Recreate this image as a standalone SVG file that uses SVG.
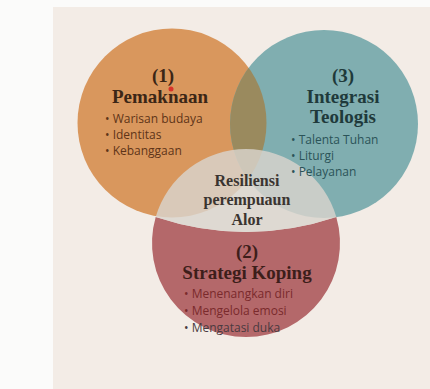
<svg xmlns="http://www.w3.org/2000/svg" width="430" height="389" viewBox="0 0 430 389">
<defs>
<clipPath id="clipOrange"><circle cx="172" cy="123" r="94.5"/></clipPath>
<style>
.h{font-family:"Liberation Serif","DejaVu Serif",serif;font-weight:bold;font-size:19px;text-anchor:middle}
.c{font-size:16px}
.b{font-family:"Open Sans","Noto Sans",sans-serif;font-size:12px}
</style>
</defs>
<rect x="0" y="0" width="430" height="389" fill="#fbfbfa"/>
<rect x="53" y="7" width="377" height="382" fill="#f3ece6"/>
<g id="node-pemaknaan">
<circle cx="172" cy="123" r="94.5" fill="#d9975d"/>
</g>
<g id="node-teologis">
<circle cx="324" cy="124" r="94" fill="#80aeb0"/>
<circle cx="324" cy="124" r="94" fill="#9a8a5e" clip-path="url(#clipOrange)"/>
</g>
<g id="node-koping">
<path d="M155.7,217 Q246,247 336.3,217 A94,94 0 1 1 155.7,217 Z" fill="#b4686a"/>
</g>
<g id="node-resiliensi">
<path d="M155.7,217 A94,94 0 0 1 336.3,217 Q246,247 155.7,217 Z" fill="#d9d4cd" opacity="0.82"/>
</g>
<g id="connectors"></g>
<g id="labels">
<text class="h" x="163" y="82" fill="#3b2616">(1)</text>
<text class="h" x="160" y="103" fill="#3b2616">Pemaknaan</text>
<text class="b" x="105" y="123" fill="#5e3418">• Warisan budaya</text>
<text class="b" x="105" y="139" fill="#5e3418">• Identitas</text>
<text class="b" x="105" y="155" fill="#5e3418">• Kebanggaan</text>
<circle cx="171" cy="89" r="2.5" fill="#d8322a"/>
<text class="h" x="343" y="82" fill="#1f3a3b">(3)</text>
<text class="h" x="343" y="103" fill="#1f3a3b">Integrasi</text>
<text class="h" x="343" y="123" fill="#1f3a3b">Teologis</text>
<text class="b" x="291" y="144" fill="#2b5358">• Talenta Tuhan</text>
<text class="b" x="291" y="160" fill="#2b5358">• Liturgi</text>
<text class="b" x="291" y="176" fill="#2b5358">• Pelayanan</text>
<text class="h c" x="247" y="186" fill="#3a3430">Resiliensi</text>
<text class="h c" x="247" y="205" fill="#3a3430">perempuaun</text>
<text class="h c" x="247" y="225" fill="#3a3430">Alor</text>
<text class="h" x="247" y="258" fill="#3d1e1a">(2)</text>
<text class="h" x="247" y="279" fill="#3d1e1a">Strategi Koping</text>
<text class="b" x="184" y="298" fill="#7a2a2c">• Menenangkan diri</text>
<text class="b" x="184" y="315" fill="#7a2a2c">• Mengelola emosi</text>
<text class="b" x="184" y="332" fill="#4a3a40">• Mengatasi duka</text>
</g>
</svg>
